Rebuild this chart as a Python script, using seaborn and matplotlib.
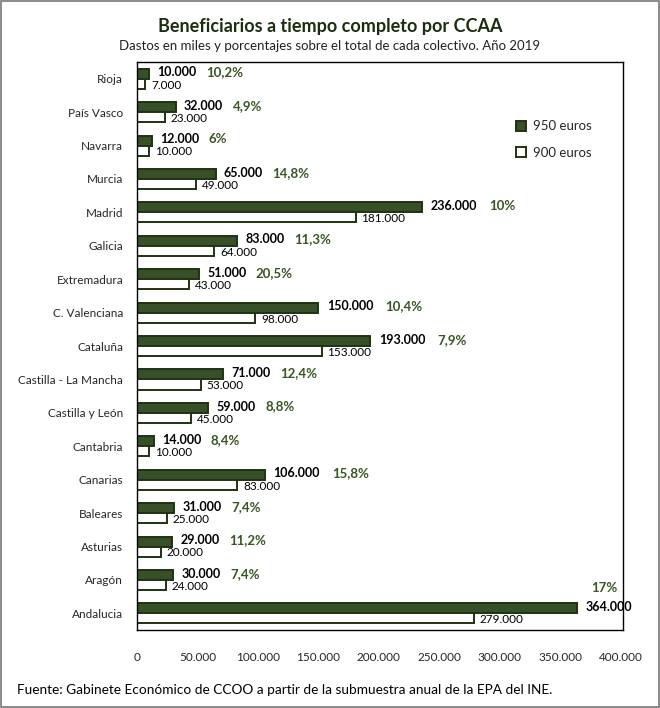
import numpy as np
import pandas as pd
import seaborn as sns
import matplotlib.pyplot as plt
from matplotlib.patches import Rectangle

ccaa = ["Rioja", "País Vasco", "Navarra", "Murcia", "Madrid", "Galicia", "Extremadura",
        "C. Valenciana", "Cataluña", "Castilla - La Mancha", "Castilla y León", "Cantabria",
        "Canarias", "Baleares", "Asturias", "Aragón", "Andalucia"]
euros_950 = [10000, 32000, 12000, 65000, 236000, 83000, 51000, 150000, 193000, 71000,
             59000, 14000, 106000, 31000, 29000, 30000, 364000]
euros_900 = [7000, 23000, 10000, 49000, 181000, 64000, 43000, 98000, 153000, 53000,
             45000, 10000, 83000, 25000, 20000, 24000, 279000]
pct = ["10,2%", "4,9%", "6%", "14,8%", "10%", "11,3%", "20,5%", "10,4%", "7,9%", "12,4%",
       "8,8%", "8,4%", "15,8%", "7,4%", "11,2%", "7,4%", "17%"]
series = ["950 euros", "900 euros"]
xticks = [0, 50000, 100000, 150000, 200000, 250000, 300000, 350000, 400000]

green = "#375623"
dark = "#1e3310"

df = pd.DataFrame({
    "ccaa": ccaa * 2,
    "valor": euros_950 + euros_900,
    "serie": [series[0]] * len(ccaa) + [series[1]] * len(ccaa),
})

sns.set_style("white")
plt.rcParams["font.family"] = ["Lato", "DejaVu Sans"]

fig = plt.figure(figsize=(6.6, 7.08), dpi=100)
ax = fig.add_axes([0.2076, 0.110, 0.7364, 0.8024])

sns.barplot(data=df, y="ccaa", x="valor", hue="serie", order=ccaa, hue_order=series,
            palette={series[0]: green, series[1]: "white"}, width=0.6, orient="h",
            edgecolor=dark, linewidth=1.4, ax=ax, legend=True)

fmt = lambda v: f"{v:,}".replace(",", ".")
for i in range(len(ccaa)):
    y950 = i - 0.15
    y900 = i + 0.15
    lab = fmt(euros_950[i])
    ax.annotate(lab, (euros_950[i], y950), xytext=(6, 1), textcoords="offset points",
                va="center", ha="left", fontsize=9, fontweight="bold", color="black")
    ax.annotate(fmt(euros_900[i]), (euros_900[i], y900), xytext=(4, -1), textcoords="offset points",
                va="center", ha="left", fontsize=8.5, color="black")
    if i == len(ccaa) - 1:
        ax.annotate(pct[i], (400000, i - 0.75), xytext=(-2, 0), textcoords="offset points",
                    va="center", ha="right", fontsize=9.5, fontweight="bold", color=green)
    else:
        off = 41 if len(lab) < 7 else 48
        ax.annotate(pct[i], (euros_950[i], y950), xytext=(off, 1), textcoords="offset points",
                    va="center", ha="left", fontsize=9.5, fontweight="bold", color=green)

ax.set_xlim(0, 402000)
ax.set_ylim(len(ccaa) - 0.5, -0.5)
ax.set_xticks(xticks)
ax.set_xticklabels([fmt(t) for t in xticks], fontsize=8.5)
ax.tick_params(axis="x", length=0, pad=16)
ax.tick_params(axis="y", length=0, pad=10, labelsize=8.5)
ax.set_xlabel("")
ax.set_ylabel("")
for s in ax.spines.values():
    s.set_visible(True)
    s.set_color("black")
    s.set_linewidth(1.0)

leg = ax.legend(loc="upper right", bbox_to_anchor=(0.96, 0.918), frameon=False, fontsize=9.5,
                handlelength=0.8, handleheight=0.8, labelspacing=1.1, handletextpad=0.5)

fig.text(0.5, 0.963, "Beneficiarios a tiempo completo por CCAA", ha="center", va="center",
         fontsize=13, fontweight="bold", color="#1b2e0f")
fig.text(0.5, 0.935, "Dastos en miles y porcentajes sobre el total de cada colectivo. Año 2019",
         ha="center", va="center", fontsize=9.5, color="#222222")
fig.text(0.026, 0.025, "Fuente: Gabinete Económico de CCOO a partir de la submuestra anual de la EPA del INE.",
         ha="left", va="center", fontsize=9.8, color="black")

fig.patches.append(Rectangle((0.002, 0.002), 0.996, 0.996, transform=fig.transFigure,
                             fill=False, edgecolor="#777777", linewidth=1.2))

fig.savefig("out.png", dpi=100)
